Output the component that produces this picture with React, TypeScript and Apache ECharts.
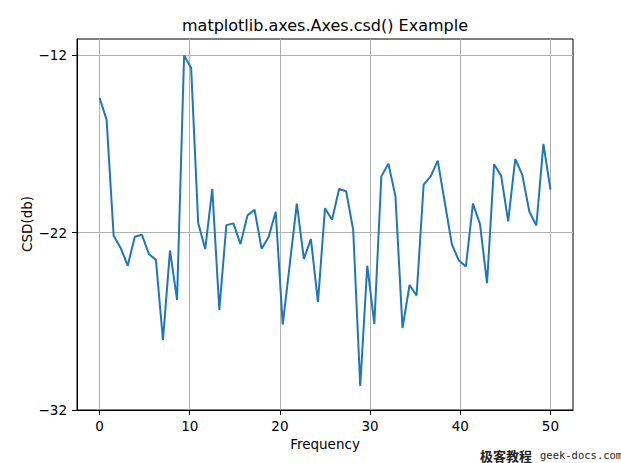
import React, { useEffect, useRef } from "react";
import * as echarts from "echarts";

const frequencies = [
  0, 0.78125, 1.5625, 2.34375, 3.125, 3.90625, 4.6875, 5.46875, 6.25, 7.03125,
  7.8125, 8.59375, 9.375, 10.15625, 10.9375, 11.71875, 12.5, 13.28125, 14.0625,
  14.84375, 15.625, 16.40625, 17.1875, 17.96875, 18.75, 19.53125, 20.3125,
  21.09375, 21.875, 22.65625, 23.4375, 24.21875, 25, 25.78125, 26.5625,
  27.34375, 28.125, 28.90625, 29.6875, 30.46875, 31.25, 32.03125, 32.8125,
  33.59375, 34.375, 35.15625, 35.9375, 36.71875, 37.5, 38.28125, 39.0625,
  39.84375, 40.625, 41.40625, 42.1875, 42.96875, 43.75, 44.53125, 45.3125,
  46.09375, 46.875, 47.65625, 48.4375, 49.21875, 50,
];

const csdDb = [
  -14.39, -15.62, -22.17, -22.86, -23.86, -22.23, -22.11, -23.2, -23.53, -28.05,
  -23.0, -25.79, -12.0, -12.7, -21.45, -22.92, -19.53, -26.35, -21.57, -21.47,
  -22.64, -21.02, -20.7, -22.9, -22.24, -20.81, -27.18, -23.78, -20.36, -23.47,
  -22.36, -25.9, -20.62, -21.27, -19.53, -19.66, -21.83, -30.64, -23.86, -27.14,
  -18.82, -18.1, -19.95, -27.38, -24.95, -25.54, -19.29, -18.82, -17.93, -20.28,
  -22.64, -23.57, -23.9, -20.36, -21.51, -24.84, -18.14, -18.78, -21.36, -17.84,
  -18.72, -20.8, -21.59, -16.99, -19.57,
];

const xTicks = [0, 10, 20, 30, 40, 50];
const yTicks = [-32, -22, -12];

const titleText = "matplotlib.axes.Axes.csd() Example";
const xLabel = "Frequency";
const yLabel = "CSD(db)";

const FONT = "DejaVu Sans";

export default function App() {
  const ref = useRef<HTMLDivElement>(null);

  useEffect(() => {
    document.body.style.margin = "0";
    if (!ref.current) return;
    const chart = echarts.init(ref.current, null, { renderer: "svg" });
    const data = frequencies.map((f, i) => [f, csdDb[i]]);
    const fmt = (v: number) => (v < 0 ? "\u2212" + Math.abs(v) : String(v));
    chart.setOption({
      animation: false,
      backgroundColor: "#ffffff",
      grid: {
        left: 77,
        right: 48,
        top: 39,
        bottom: 53,
        show: true,
        borderColor: "#000000",
        borderWidth: 1,
        backgroundColor: "transparent",
      },
      xAxis: {
        type: "value",
        min: -2.5,
        max: 52.5,
        axisLine: { show: true, onZero: false, lineStyle: { color: "#000", width: 1 } },
        axisTick: {
          show: true,
          length: 5,
          inside: false,
          customValues: xTicks,
          lineStyle: { color: "#000", width: 1 },
        },
        axisLabel: {
          customValues: xTicks,
          margin: 9,
          color: "#000",
          fontFamily: FONT,
          fontSize: 13.5,
          formatter: (v: number) => fmt(v),
        },
        splitLine: { show: true, lineStyle: { color: "#b0b0b0", width: 1 } },
      },
      yAxis: {
        type: "value",
        min: -32,
        max: -11.07,
        axisLine: { show: true, onZero: false, lineStyle: { color: "#000", width: 1 } },
        axisTick: {
          show: true,
          length: 5,
          inside: false,
          customValues: yTicks,
          lineStyle: { color: "#000", width: 1 },
        },
        axisLabel: {
          customValues: yTicks,
          margin: 10,
          color: "#000",
          fontFamily: FONT,
          fontSize: 13.5,
          formatter: (v: number) => fmt(v),
        },
        splitLine: { show: true, lineStyle: { color: "#b0b0b0", width: 1 } },
      },
      series: [
        {
          type: "line",
          data,
          symbol: "none",
          lineStyle: { color: "#1f77b4", width: 2 },
          z: 3,
        },
      ],
      graphic: [
        {
          type: "text",
          x: 325,
          y: 25,
          style: {
            text: titleText,
            fontFamily: FONT,
            fontSize: 16,
            fill: "#000",
            align: "center",
            verticalAlign: "middle",
          },
        },
        {
          type: "text",
          x: 325,
          y: 444,
          style: {
            text: xLabel,
            fontFamily: FONT,
            fontSize: 13.5,
            fill: "#000",
            align: "center",
            verticalAlign: "middle",
          },
        },
        {
          type: "text",
          x: 27,
          y: 224,
          rotation: Math.PI / 2,
          style: {
            text: yLabel,
            fontFamily: FONT,
            fontSize: 13.5,
            fill: "#000",
            align: "center",
            verticalAlign: "middle",
          },
        },
        {
          type: "text",
          x: 480,
          y: 455,
          style: {
            text: "极客教程",
            fontFamily: "Noto Sans CJK SC",
            fontWeight: "bold",
            fontSize: 13,
            fill: "#222",
            align: "left",
            verticalAlign: "middle",
          },
        },
        {
          type: "text",
          x: 540,
          y: 455,
          style: {
            text: "geek-docs.com",
            fontFamily: "DejaVu Sans Mono",
            fontSize: 10.5,
            fill: "#222",
            align: "left",
            verticalAlign: "middle",
          },
        },
      ],
    });
    return () => chart.dispose();
  }, []);

  return <div ref={ref} style={{ width: 621, height: 463 }} />;
}
